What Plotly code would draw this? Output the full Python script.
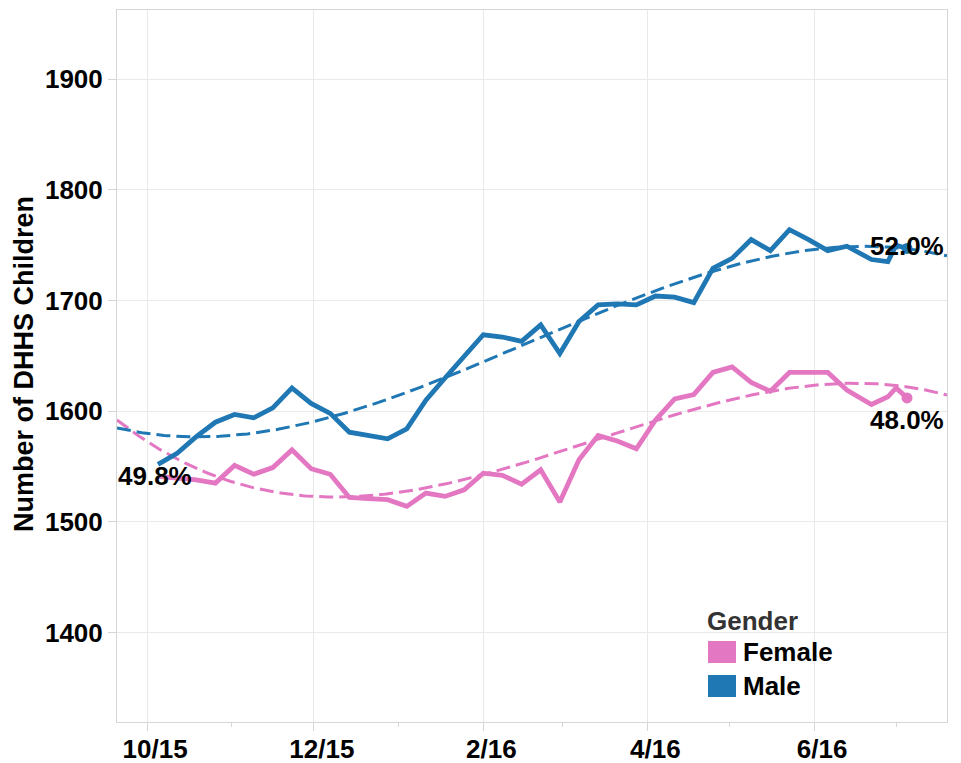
import numpy as np
import pandas as pd
import plotly.graph_objects as go

# ---------------- data ----------------
dates = [
    "2015-10-05", "2015-10-12", "2015-10-19", "2015-10-26", "2015-11-02", "2015-11-09",
    "2015-11-16", "2015-11-23", "2015-11-30", "2015-12-07", "2015-12-14", "2015-12-21",
    "2015-12-28", "2016-01-04", "2016-01-11", "2016-01-18", "2016-01-25", "2016-02-01",
    "2016-02-08", "2016-02-15", "2016-02-22", "2016-02-29", "2016-03-07", "2016-03-14",
    "2016-03-21", "2016-03-28", "2016-04-04", "2016-04-11", "2016-04-18", "2016-04-25",
    "2016-05-02", "2016-05-09", "2016-05-16", "2016-05-23", "2016-05-30", "2016-06-06",
    "2016-06-13", "2016-06-22", "2016-06-28", "2016-07-01", "2016-07-05",
]
male = [1552, 1562, 1577, 1590, 1597, 1594, 1603, 1621, 1607, 1598, 1581, 1578, 1575, 1584,
        1610, 1630, 1650, 1669, 1667, 1663, 1678, 1652, 1681, 1696, 1697, 1696, 1704, 1703,
        1698, 1729, 1738, 1755, 1745, 1764, 1755, 1745, 1749, 1737, 1735, 1750, 1747]
female = [1541, 1540, 1538, 1535, 1551, 1543, 1549, 1565, 1548, 1543, 1522, 1521, 1520, 1514,
          1526, 1523, 1529, 1544, 1542, 1534, 1547, 1518, 1556, 1578, 1573, 1566, 1592, 1611,
          1615, 1635, 1640, 1626, 1618, 1635, 1635, 1635, 1619, 1606, 1613, 1621, 1612]
tick_dates = ["2015-10-01", "2015-12-01", "2016-02-01", "2016-04-01", "2016-06-01"]
tick_labels = ["10/15", "12/15", "2/16", "4/16", "6/16"]
y_ticks = [1400, 1500, 1600, 1700, 1800, 1900]
series_names = ["Female", "Male"]
colors = {"Female": "#e377c2", "Male": "#1f77b4"}

x_range = ["2015-09-20", "2016-07-19 15:00"]
FONT = "Liberation Sans, Arial, sans-serif"
FS = 26

# page body has an 8px margin: work in window pixels, convert to figure pixels
OFF = 8
W, H = 961 - OFF, 763 - OFF
PL, PR, PT, PB = 117, 947, 10, 722          # plot area in window pixels
L, R, T, B = PL - OFF, W - (PR - OFF), PT - OFF, H - (PB - OFF)
pw, ph = W - L - R, H - T - B


def px(x):
    return (x - OFF - L) / pw


def py(y):
    return (H - B - (y - OFF)) / ph


# ---------------- figure ----------------
dt = pd.to_datetime(dates)
t0 = pd.Timestamp("2015-10-01")
days = np.array([(d - t0).days for d in dt], dtype=float)
grid = pd.date_range(x_range[0], x_range[1], periods=300)
gdays = np.array([(g - t0).total_seconds() / 86400 for g in grid])

fig = go.Figure()
vals = {"Female": female, "Male": male}
for name in series_names:
    v = np.array(vals[name], dtype=float)
    coef = np.polyfit(days, v, 3)
    fig.add_trace(go.Scatter(x=grid, y=np.polyval(coef, gdays), mode="lines",
                             line=dict(color=colors[name], width=3, dash="14px,6px"),
                             showlegend=False, hoverinfo="skip"))
for name in series_names:
    v = vals[name]
    fig.add_trace(go.Scatter(x=dt, y=v, mode="lines", name=name,
                             line=dict(color=colors[name], width=4.8), showlegend=False))
    fig.add_trace(go.Scatter(x=[dt[-1]], y=[v[-1]], mode="markers",
                             marker=dict(color=colors[name], size=11), showlegend=False))


def pct(a, b):
    return f"{100 * a / (a + b):.1f}%"


lab_font = dict(family=FONT, size=FS, color="black", weight="bold")
fig.add_annotation(x=dt[0], y=female[0], text=pct(female[0], male[0]), showarrow=False,
                   xanchor="center", yanchor="middle", xshift=-3, font=lab_font)
fig.add_annotation(x=dt[-1], y=male[-1], text=pct(male[-1], female[-1]), showarrow=False,
                   xanchor="center", yanchor="middle", yshift=2, font=lab_font)
fig.add_annotation(x=dt[-1], y=female[-1], text=pct(female[-1], male[-1]), showarrow=False,
                   xanchor="center", yanchor="middle", yshift=-22, font=lab_font)

# y-axis title
fig.add_annotation(xref="paper", yref="paper", x=px(24), y=py(364), text="Number of DHHS Children",
                   textangle=-90, showarrow=False, xanchor="center", yanchor="middle",
                   font=dict(family=FONT, size=27, color="black", weight="bold"))

# legend (manual)
fig.add_annotation(xref="paper", yref="paper", x=px(705), y=py(621), text="Gender", showarrow=False,
                   xanchor="left", yanchor="middle",
                   font=dict(family=FONT, size=FS, color="#333333", weight="bold"))
for i, name in enumerate(series_names):
    yc = 652 + 34 * i
    fig.add_shape(type="rect", xref="paper", yref="paper", x0=px(708), x1=px(736),
                  y0=py(yc + 11), y1=py(yc - 11), fillcolor=colors[name], line=dict(width=0))
    fig.add_annotation(xref="paper", yref="paper", x=px(741), y=py(yc), text=name, showarrow=False,
                       xanchor="left", yanchor="middle", font=lab_font)

fig.update_layout(
    width=W, height=H, margin=dict(l=L, r=R, t=T, b=B, autoexpand=False),
    paper_bgcolor="white", plot_bgcolor="white",
    font=dict(family=FONT, size=FS, color="black"),
    showlegend=False,
)
fig.update_xaxes(
    type="date", range=x_range, tickvals=pd.to_datetime(tick_dates), ticktext=tick_labels,
    showgrid=True, gridcolor="#e9e9e9", gridwidth=1, zeroline=False,
    showline=True, linecolor="#d6d6d6", linewidth=1, mirror=True,
    ticks="outside", ticklen=8, tickcolor="#d6d6d6", ticklabelshift=8, ticklabelstandoff=-4,
    tickfont=dict(family=FONT, size=FS, color="black", weight="bold"),
    minor=dict(dtick="M1", tick0="2015-10-01", ticks="outside", ticklen=4, tickcolor="#d6d6d6",
               showgrid=False),
)
fig.update_yaxes(
    range=[1319.2, 1962.4], tickvals=y_ticks,
    showgrid=True, gridcolor="#e9e9e9", gridwidth=1, zeroline=False,
    showline=True, linecolor="#d6d6d6", linewidth=1, mirror=True,
    ticks="outside", ticklen=8, tickcolor="#d6d6d6",
    tickfont=dict(family=FONT, size=FS, color="black", weight="bold"),
)

fig.write_html("out.html")
